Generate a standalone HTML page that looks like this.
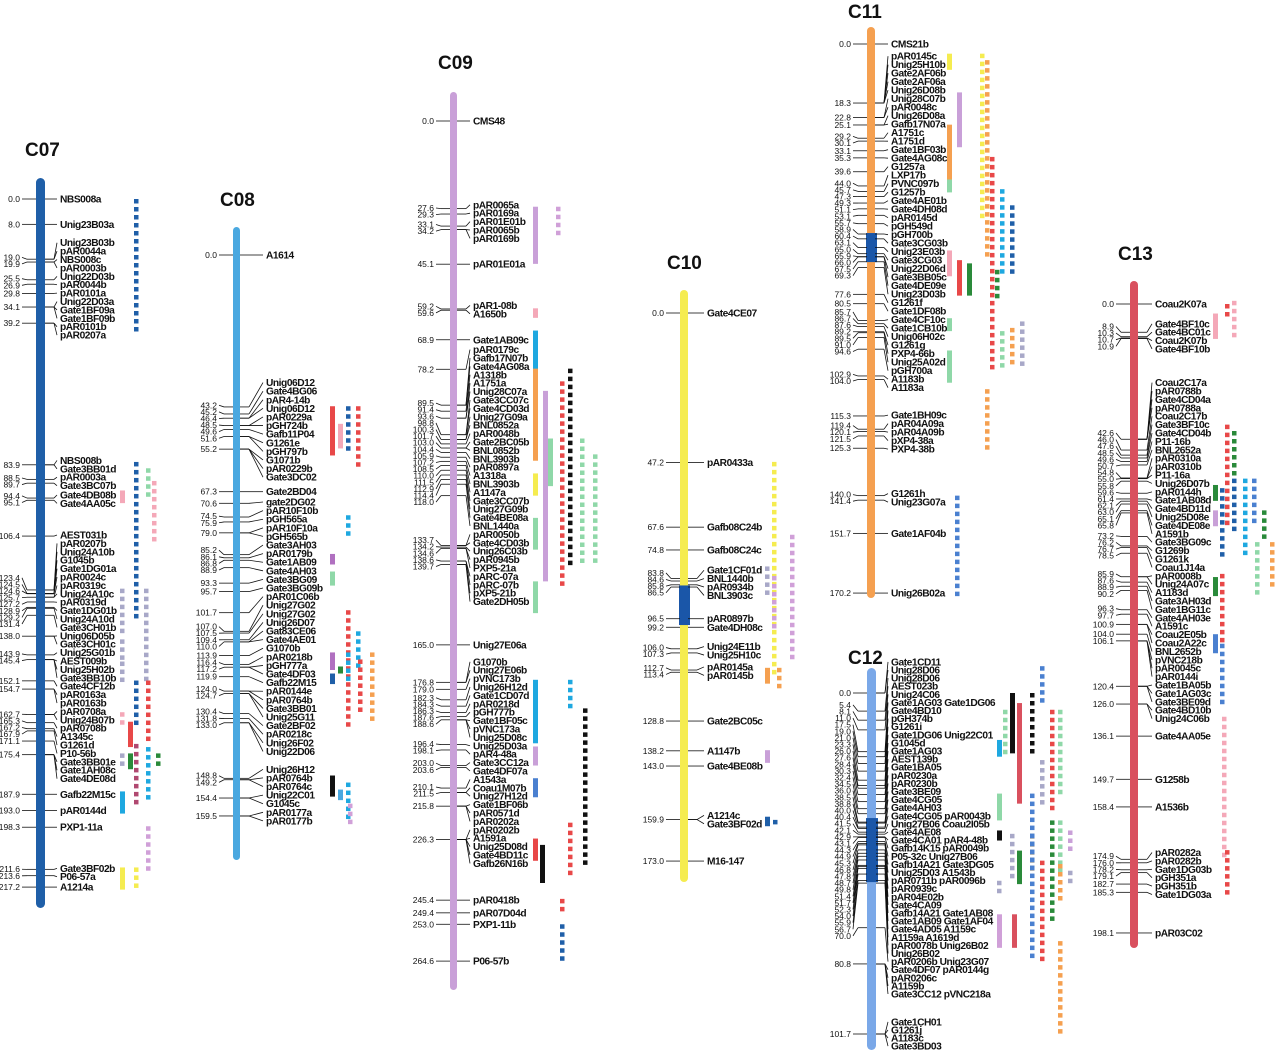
<!DOCTYPE html>
<html><head><meta charset="utf-8"><title>Linkage map C07-C13</title>
<style>
html,body{margin:0;padding:0;background:#fff;}
svg{display:block;font-family:"Liberation Sans",Arial,sans-serif;}
.lbl{font-size:10.2px;font-weight:bold;fill:#111;letter-spacing:-0.45px;}
.num{font-size:8.5px;fill:#111;}
.ttl{font-size:19px;font-weight:bold;fill:#111;}
</style></head>
<body>
<svg id="map" width="1280" height="1060" viewBox="0 0 1280 1060" xmlns="http://www.w3.org/2000/svg">
<rect width="1280" height="1060" fill="#fff"/>
</svg>
<script>
// ---------- data ----------
const chromNames = ["C07","C08","C09","C10","C11","C12","C13"];

const c07Markers = [[0,"NBS008a"],[8.0,"Unig23B03a"],[19.0,"Unig23B03b"],[19.0,"pAR0044a"],[19.9,"NBS008c"],[19.9,"pAR0003b"],[25.5,"Unig22D03b"],[26.9,"pAR0044b"],[29.8,"pAR0101a"],[34.1,"Unig22D03a"],[34.1,"Gate1BF09a"],[34.1,"Gate1BF09b"],[39.2,"pAR0101b"],[39.2,"pAR0207a"],
[83.9,"NBS008b"],[83.9,"Gate3BB01d"],[88.5,"pAR0003a"],[89.7,"Gate3BC07b"],[94.4,"Gate4DB08b"],[95.1,"Gate4AA05c"],[106.4,"AEST031b"],
[123.4,"pAR0207b"],[123.4,"Unig24A10b"],[124.5,"G1045b"],[124.6,"Gate1DG01a"],[124.6,"pAR0024c"],[125.7,"pAR0319c"],[125.7,"Unig24A10c"],[127.2,"pAR0319d"],[128.9,"Gate1DG01b"],[129.2,"Unig24A10d"],[131.4,"Gate3CH01b"],[138.0,"Unig06D05b"],[138.0,"Gate3CH01c"],[143.9,"Unig25G01b"],[145.4,"AEST009b"],[145.4,"Unig25H02b"],[145.4,"Gate3BB10b"],[152.1,"Gate4CF12b"],[154.7,"pAR0163a"],[154.7,"pAR0163b"],
[162.7,"pAR0708a"],[162.7,"Unig24B07b"],[165.3,"pAR0708b"],[167.2,"A1345c"],[167.9,"G1261d"],[171.1,"P10-56b"],[175.4,"Gate3BB01e"],[175.4,"Gate1AH08c"],[175.4,"Gate4DE08d"],
[187.9,"Gafb22M15c"],[193.0,"pAR0144d"],[198.3,"PXP1-11a"],[211.6,"Gate3BF02b"],[213.6,"P06-57a"],[217.2,"A1214a"]];

const c08Markers = [[0,"A1614"],[43.2,"Unig06D12"],[45.2,"Gate4BG06"],[46.4,"pAR4-14b"],[46.4,"Unig06D12"],[48.5,"pAR0229a"],[48.5,"pGH724b"],[49.6,"Gafb11P04"],[51.6,"G1261e"],[51.6,"pGH797b"],[55.2,"G1071b"],[55.2,"pAR0229b"],[55.2,"Gate3DC02"],
[67.3,"Gate2BD04"],[70.6,"gate2DG02"],[74.5,"pAR10F10b"],[75.9,"pGH565a"],[79.0,"pAR10F10a"],[79.0,"pGH565b"],[85.2,"Gate3AH03"],[86.1,"pAR0179b"],[86.8,"Gate1AB09"],[88.9,"Gate4AH03"],[93.3,"Gate3BG09"],[95.7,"Gate3BG09b"],
[101.7,"pAR01C06b"],[107.0,"Unig27G02"],[107.5,"Unig27G02"],[109.4,"Unig26D07"],[110.0,"Gat83CE06"],[110.0,"Gate4AE01"],[113.9,"G1070b"],[116.4,"pAR0218b"],[117.2,"pGH777a"],[117.2,"Gate4DF03"],[119.9,"Gafb22M15"],[124.0,"pAR0144e"],[124.0,"pAR0764b"],[124.7,"Gate3BB01"],[124.7,"Unig25G11"],[130.4,"Gate2BF02"],[131.8,"pAR0218c"],[133.0,"Unig26F02"],[133.0,"Unig22D06"],
[148.8,"Unig26H12"],[149.2,"pAR0764b"],[149.2,"pAR0764c"],[154.4,"Unig22C01"],[154.4,"G1045c"],[159.5,"pAR0177a"],[159.5,"pAR0177b"]];

const c09Markers = [[0,"CMS48"],[27.6,"pAR0065a"],[29.3,"pAR0169a"],[33.1,"pAR01E01b"],[34.2,"pAR0065b"],[34.2,"pAR0169b"],[45.1,"pAR01E01a"],[59.2,"pAR1-08b"],[59.6,"A1650b"],[68.9,"Gate1AB09c"],[78.2,"pAR0179c"],
[89.5,"Gafb17N07b"],[89.5,"Gate4AG08a"],[91.4,"A1318b"],[93.6,"A1751a"],[93.6,"Unig28C07a"],[98.8,"Gate3CC07c"],[98.8,"Gate4CD03d"],[100.3,"Unig27G09a"],[100.3,"BNL0852a"],[101.7,"pAR0048b"],[103.0,"Gate2BC05b"],[103.0,"BNL0852b"],[104.4,"BNL3903b"],[105.9,"pAR0897a"],[107.2,"A1318a"],[108.5,"BNL3903b"],[110.0,"A1147a"],[111.5,"Gate3CC07b"],[112.9,"Unig27G09b"],[114.4,"Gate4BE08a"],[118.0,"BNL1440a"],
[133.7,"pAR0050b"],[133.7,"Gate4CD03b"],[134.2,"Unig26C03b"],[134.6,"pAR0945b"],[134.6,"PXP5-21a"],[138.6,"pARC-07a"],[138.6,"pARC-07b"],[139.7,"pXP5-21b"],[139.7,"Gate2DH05b"],
[165.0,"Unig27E06a"],[176.8,"G1070b"],[176.8,"Unig27E06b"],[179.0,"pVNC173b"],[182.3,"Unig26H12d"],[184.3,"Gate1CD07d"],[186.3,"pAR0218d"],[187.6,"pGH777b"],[188.6,"Gate1BF05c"],[188.6,"pVNC173a"],[188.6,"Unig25D08c"],[196.4,"Unig25D03a"],[198.1,"pAR4-48a"],[203.0,"Gate3CC12a"],[203.6,"Gate4DF07a"],[210.1,"A1543a"],[211.5,"Coau1M07b"],[211.5,"Unig27H12d"],[215.8,"Gate1BF06b"],[215.8,"pAR0571d"],[215.8,"pAR0202a"],[226.3,"pAR0202b"],[226.3,"A1591a"],[226.3,"Unig25D08d"],[226.3,"Gate4BD11c"],[226.3,"Gafb26N16b"],
[245.4,"pAR0418b"],[249.4,"pAR07D04d"],[253.0,"PXP1-11b"],[264.6,"P06-57b"]];

const c10Markers = [[0,"Gate4CE07"],[47.2,"pAR0433a"],[67.6,"Gafb08C24b"],[74.8,"Gafb08C24c"],[83.8,"Gate1CF01d"],[84.6,"BNL1440b"],[85.8,"pAR0934b"],[86.5,"BNL3903c"],[96.5,"pAR0897b"],[99.2,"Gate4DH08c"],[106.0,"Unig24E11b"],[107.3,"Unig25H10c"],[112.7,"pAR0145a"],[113.4,"pAR0145b"],[128.8,"Gate2BC05c"],[138.2,"A1147b"],[143.0,"Gate4BE08b"],[159.9,"A1214c"],[159.9,"Gate3BF02d"],[173.0,"M16-147"]];

const c11Markers = [[0,"CMS21b"],[18.3,"pAR0145c"],[18.3,"Unig25H10b"],[18.3,"Gate2AF06b"],[18.3,"Gate2AF06a"],[18.3,"Unig26D08b"],[22.8,"Unig28C07b"],[22.8,"pAR0048c"],[25.1,"Unig26D08a"],[25.1,"Gafb17N07a"],[29.2,"A1751c"],[30.1,"A1751d"],[33.1,"Gate1BF03b"],[35.3,"Gate4AG08c"],[39.6,"G1257a"],[44.0,"LXP17b"],[45.7,"PVNC097b"],[47.3,"G1257b"],[49.3,"Gate4AE01b"],[51.1,"Gate4DH08d"],[53.1,"pAR0145d"],[55.7,"pGH549d"],[58.9,"pGH700b"],[60.4,"Gate3CG03b"],[63.1,"Unig23E03b"],[65.0,"Gate3CG03"],[65.9,"Unig22D06d"],[66.0,"Gate3BB05c"],[67.5,"Gate4DE09e"],[69.3,"Unig23D03b"],[77.6,"G1261f"],[80.5,"Gate1DF08b"],[85.7,"Gate4CF10c"],[86.7,"Gate1CB10b"],[87.6,"Unig06H02c"],[89.2,"G1261g"],[89.5,"PXP4-66b"],[91.0,"Unig25A02d"],[94.6,"pGH700a"],[102.9,"A1183b"],[104.0,"A1183a"],[115.3,"Gate1BH09c"],[119.4,"pAR04A09a"],[120.1,"pAR04A09b"],[121.5,"pXP4-38a"],[125.3,"PXP4-38b"],[140.0,"G1261h"],[141.4,"Unig23G07a"],[151.7,"Gate1AF04b"],[170.2,"Unig26B02a"]];

const c12Markers = [[0,"Gate1CD11"],[0,"Unig28D06"],[5.4,"Unig28D06"],[8.1,"AEST023b"],[11.0,"Unig24C06"],[17.5,"Gate1AG03 Gate1DG06"],[19.0,"Gate4BD10"],[21.0,"pGH374b"],[23.3,"G1261i"],[26.0,"Gate1DG06 Unig22C01"],[27.6,"G1045d"],[28.4,"Gate1AG03"],[30.3,"AEST139b"],[32.4,"Gate1BA05"],[34.5,"pAR0230a"],[36.0,"pAR0230b"],[38.5,"Gate3BE09"],[38.8,"Gate4CG05"],[40.0,"Gate4AH03"],[40.4,"Gate4CG05 pAR0043b"],[41.5,"Unig27B06 Coau2I05b"],[42.1,"Gate4AE08"],[42.9,"Gate4CA01 pAR4-48b"],[43.1,"Gafb14K15 pAR0049b"],[44.3,"P05-32c Unig27B06"],[44.9,"Gafb14A21 Gate3DG05"],[45.3,"Unig25D03 A1543b"],[46.8,"pAR0711b pAR0096b"],[47.8,"pAR0939c"],[48.7,"pAR04E02b"],[49.8,"Gate4CA09"],[51.4,"Gafb14A21 Gate1AB08"],[51.7,"Gate1AB09 Gate1AF04"],[52.3,"Gate4AD05 A1159c"],[54.0,"A1159a  A1619d"],[55.9,"pAR0078b Unig26B02"],[56.7,"Unig26B02"],[70.0,"pAR0206b Unig23G07"],[80.8,"Gate4DF07 pAR0144g"],[80.8,"pAR0206c"],[80.8,"A1159b"],[80.8,"Gate3CC12  pVNC218a"],[101.7,"Gate1CH01"],[101.7,"G1261j"],[101.7,"A1183c"],[101.7,"Gate3BD03"]];

const c13Markers = [[0,"Coau2K07a"],[8.9,"Gate4BF10c"],[10.3,"Gate4BC01c"],[10.7,"Coau2K07b"],[10.9,"Gate4BF10b"],
[42.6,"Coau2C17a"],[42.6,"pAR0788b"],[42.6,"Gate4CD04a"],[42.6,"pAR0788a"],[46.0,"Coau2C17b"],[47.6,"Gate3BF10c"],[48.5,"Gate4CD04b"],[49.6,"P11-16b"],[50.7,"BNL2652a"],[54.8,"pAR0310a"],[55.0,"pAR0310b"],[55.0,"P11-16a"],[55.8,"Unig26D07b"],[59.6,"pAR0144h"],[61.4,"Gate1AB08d"],[62.1,"Gate4BD11d"],[63.0,"Unig25D08e"],[65.1,"Gate4DE08e"],[65.8,"A1591b"],[73.2,"Gate3BG09c"],[76.2,"G1269b"],[76.7,"G1261k"],[78.5,"Coau1J14a"],[85.9,"pAR0008b"],[85.9,"Unig24A07c"],[87.6,"A1183d"],[88.9,"Gate3AH03d"],[90.2,"Gate1BG11c"],[96.3,"Gate4AH03e"],[97.7,"A1591c"],[100.9,"Coau2E05b"],[100.9,"Coau2A22c"],[104.0,"BNL2652b"],[106.1,"pVNC218b"],[106.1,"pAR0045c"],[106.1,"pAR0144i"],[120.4,"Gate1BA05b"],[120.4,"Gate1AG03c"],[120.4,"Gate3BE09d"],[126.0,"Gate4BD10b"],[126.0,"Unig24C06b"],
[136.1,"Gate4AA05e"],[149.7,"G1258b"],[158.4,"A1536b"],[174.9,"pAR0282a"],[176.0,"pAR0282b"],[178.2,"Gate1DG03b"],[179.1,"pGH351a"],[182.7,"pGH351b"],[185.3,"Gate1DG03a"],[198.1,"pAR03C02"]];

// QTL / segment columns: [x, cMstart, cMend, color, style]  (s = solid, d = dotted)
const c07Qtl = [[134,0,42,"#1f5fa8","d"],[134,83,133,"#1f5fa8","d"],[134,152,166,"#1f5fa8","d"],[146,85,95,"#8fd8a8","d"],[152,89,107,"#f4a8b8","d"],[120,92,96,"#f4a8b8","s"],[120,123,136,"#a8a8c8","d"],[144,123,152,"#a8a8c8","d"],[120,139,145,"#a8a8c8","d"],[120,146,153,"#a8a8c8","d"],[146,152,172,"#e84848","d"],[120,162,167,"#f4a8b8","d"],[128,165,173,"#e84848","s"],[134,172,192,"#b04870","d"],[128,175,180,"#2a8a3a","s"],[146,173,190,"#1ea8e0","d"],[156,175,180,"#2a8a3a","d"],[120,175,178,"#a8a8c8","d"],[120,187,194,"#1ea8e0","s"],[146,198,213,"#d0a0d8","d"],[120,211,218,"#f5ec50","s"],[134,211,218,"#f5ec50","d"]];
const c08Qtl = [[330,43,57,"#e84848","s"],[338,48,55,"#f4a8b8","s"],[346,43,56,"#1f5fa8","d"],[356,43,60,"#e84848","d"],[346,74,80,"#1ea8e0","d"],[330,85,88,"#b070c0","s"],[330,90,94,"#8fd8a8","s"],[346,101,135,"#e84848","d"],[356,107,117,"#1ea8e0","d"],[330,113,118,"#b070c0","s"],[330,119,122,"#1f5fa8","s"],[346,113,121,"#1ea8e0","d"],[358,115,130,"#e84848","d"],[370,113,133,"#f5a050","d"],[338,117,119,"#2a8a3a","s"],[330,148,154,"#111","s"],[338,152,155,"#4aa8e0","s"],[346,150,160,"#1ea8e0","d"],[348,156,162,"#d0a0d8","d"]];
const c09Qtl = [[533,27,45,"#c9a0d8","s"],[556,27,35,"#d0a0d8","d"],[533,59,62,"#f4a8b8","s"],[533,66,80,"#1ea8e0","s"],[533,78,107,"#f5a050","s"],[568,78,140,"#111","d"],[543,85,145,"#c9a0d8","s"],[548,100,115,"#8fd8a8","s"],[560,82,145,"#e84848","d"],[580,100,140,"#8fd8a8","d"],[593,105,140,"#8fd8a8","d"],[533,111,118,"#f5ec50","s"],[533,125,135,"#8fd8a8","s"],[533,145,155,"#8fd8a8","s"],[533,176,196,"#1ea8e0","s"],[568,176,186,"#1ea8e0","d"],[583,185,235,"#111","d"],[533,197,203,"#c9a0d8","s"],[533,207,213,"#4a80d0","s"],[533,226,233,"#e84848","s"],[540,228,240,"#111","s"],[568,221,238,"#e84848","d"],[560,245,249,"#e84848","d"],[560,253,265,"#1f5fa8","d"]];
const c10Qtl = [[772,47,115,"#f5ec50","d"],[765,80,88,"#a8a8c8","d"],[772,83,100,"#d0a0d8","d"],[790,70,110,"#d0a0d8","d"],[765,112,117,"#f5a050","s"],[777,112,118,"#f5a050","d"],[765,138,142,"#c9a0d8","s"],[765,159,162,"#1f5fa8","s"],[773,160,162,"#1f5fa8","d"]];
const c11Qtl = [[947,3,8,"#f5ec50","s"],[980,3,55,"#f5ec50","d"],[957,15,32,"#c9a0d8","s"],[947,25,42,"#f5a050","s"],[947,42,46,"#8fd8a8","s"],[985,5,65,"#f5a050","d"],[990,35,100,"#e84848","d"],[1000,45,70,"#1ea8e0","d"],[1010,50,70,"#1f5fa8","d"],[957,67,78,"#e84848","s"],[967,68,78,"#2a8a3a","s"],[995,70,78,"#2a8a3a","d"],[947,64,72,"#f4a8b8","s"],[947,85,89,"#8fd8a8","s"],[1020,86,100,"#a8a8c8","d"],[1010,88,100,"#f5a050","d"],[1000,89,100,"#8fd8a8","d"],[947,95,105,"#8fd8a8","s"],[985,107,125,"#f5a050","d"],[955,140,170,"#4a80d0","d"]];
const c12Qtl = [[1010,0,18,"#111","s"],[1040,-8,3,"#4a80d0","d"],[1030,0,18,"#111","d"],[1017,3,33,"#d9505e","s"],[1058,5,30,"#8fd8a8","d"],[1050,5,35,"#e84848","d"],[1040,20,34,"#a8a8c8","d"],[1003,5,18,"#8fd8a8","d"],[997,14,19,"#1ea8e0","s"],[997,30,38,"#8fd8a8","s"],[997,41,44,"#111","s"],[1010,42,55,"#a8a8c8","d"],[1017,47,57,"#2a8a3a","s"],[1030,42,52,"#111","d"],[1030,30,80,"#4a80d0","d"],[1040,50,79,"#e84848","d"],[1050,38,67,"#2a8a3a","d"],[1058,38,54,"#8fd8a8","d"],[1068,41,48,"#c9a0d8","d"],[1068,53,57,"#a8a8c8","d"],[1058,51,62,"#f5a050","d"],[997,56,60,"#a8a8c8","d"],[997,66,76,"#d0a0d8","s"],[1012,66,76,"#d9505e","s"],[1058,74,102,"#f5a050","d"]];
const c13Qtl = [[1213,3,11,"#f4a8b8","s"],[1225,0,3,"#e84848","d"],[1232,-1,11,"#f4a8b8","d"],[1225,38,70,"#e84848","d"],[1232,40,55,"#2a8a3a","d"],[1220,58,80,"#1f5fa8","d"],[1213,57,62,"#2a8a3a","s"],[1232,55,72,"#1f5fa8","d"],[1243,55,78,"#1ea8e0","d"],[1252,55,70,"#4a80d0","d"],[1213,65,70,"#c9a0d8","s"],[1262,65,75,"#2a8a3a","d"],[1270,75,88,"#f5a050","d"],[1255,75,92,"#8fd8a8","d"],[1213,86,92,"#2a8a3a","s"],[1220,85,106,"#e84848","d"],[1213,104,110,"#4a80d0","s"],[1220,107,125,"#4a80d0","d"],[1222,130,175,"#f4a8b8","d"],[1225,172,186,"#e84848","d"]];

// ---------- layout (styles/geometry only) ----------
const chroms = [
 {name:"C07",markers:c07Markers,qtl:c07Qtl,x:36,w:9,top:178,bot:908,y0:199,k:3.168,color:"#1f5fa8",lx:60,tx:25,ty:156,seg:null,gap:8.4},
 {name:"C08",markers:c08Markers,qtl:c08Qtl,x:233,w:7,top:227,bot:860,y0:255,k:3.517,color:"#4aa8e0",lx:266,tx:220,ty:206,seg:null,gap:8.6},
 {name:"C09",markers:c09Markers,qtl:c09Qtl,x:450,w:7,top:92,bot:990,y0:121,k:3.175,color:"#c9a0d8",lx:473,tx:438,ty:69,seg:null,gap:8.4},
 {name:"C10",markers:c10Markers,qtl:c10Qtl,x:680,w:8,top:290,bot:882,y0:313,k:3.168,color:"#f5ec50",lx:707,tx:667,ty:269,seg:[86,98.5],gap:8.4},
 {name:"C11",markers:c11Markers,qtl:c11Qtl,x:867,w:8,top:27,bot:598,y0:44,k:3.226,color:"#f5a050",lx:891,tx:848,ty:18,seg:[58.6,67.6],gap:8.5},
 {name:"C12",markers:c12Markers,qtl:c12Qtl,x:867,w:9,top:668,bot:1050,y0:693,k:3.353,color:"#7aa8e8",lx:891,tx:848,ty:664,seg:[37.3,56.4],gap:8.1},
 {name:"C13",markers:c13Markers,qtl:c13Qtl,x:1130,w:8,top:281,bot:948,y0:304,k:3.175,color:"#d9505e",lx:1155,tx:1118,ty:260,seg:null,gap:8.4}
];

const NS="http://www.w3.org/2000/svg";
const svg=document.getElementById("map");
function mk(tag,attrs,parent){const e=document.createElementNS(NS,tag);for(const a in attrs)e.setAttribute(a,attrs[a]);(parent||svg).appendChild(e);return e;}

function spread(ideal,gap){
  let groups=ideal.map((y,i)=>({s:i,e:i,sum:y,n:1}));
  let changed=true;
  const topOf=g=>g.sum/g.n-(g.n-1)*gap/2;
  while(changed){changed=false;
    for(let i=0;i<groups.length-1;i++){
      const a=groups[i],b=groups[i+1];
      if(topOf(b) < topOf(a)+a.n*gap){a.e=b.e;a.sum+=b.sum;a.n+=b.n;groups.splice(i+1,1);changed=true;break;}
    }}
  const out=[];
  groups.forEach(g=>{const t=topOf(g);for(let j=0;j<g.n;j++)out.push(t+j*gap);});
  return out;
}

chroms.forEach(c=>{
  const g=mk("g",{});
  
  
  const yOf=cm=>c.y0+cm*c.k;
  const t=mk("text",{x:c.tx,y:c.ty,class:"ttl"},g);t.textContent=c.name;
  
  
  const bar=mk("rect",{x:c.x,y:c.top,width:c.w,height:c.bot-c.top,rx:c.w/2,fill:c.color},g);
  
  
  if(c.seg){const s=mk("rect",{x:c.x-1,y:yOf(c.seg[0]),width:c.w+3,height:yOf(c.seg[1])-yOf(c.seg[0]),fill:"#1a56a8"},g);
    
    }
  const ideal=c.markers.map(m=>yOf(m[0]));
  const ly=spread(ideal,c.gap);
  const right=c.x+c.w;
  c.markers.forEach((m,i)=>{
    const y=ideal[i];
    mk("line",{x1:right,y1:y,x2:right+9,y2:y,stroke:"#111","stroke-width":0.8},g);
    mk("line",{x1:right+9,y1:y,x2:c.lx-3,y2:ly[i],stroke:"#111","stroke-width":0.8},g);
    const tx=mk("text",{x:c.lx,y:ly[i]+3.5,class:"lbl"},g);tx.textContent=m[1];
    
    
  });
  const uniq=[...new Set(c.markers.map(m=>m[0]))];
  const nIdeal=uniq.map(yOf);
  const ny=spread(nIdeal,6.6);
  uniq.forEach((v,i)=>{
    const y=nIdeal[i];
    mk("line",{x1:c.x-9,y1:y,x2:c.x,y2:y,stroke:"#111","stroke-width":0.8},g);
    mk("line",{x1:c.x-9,y1:y,x2:c.x-14,y2:ny[i],stroke:"#111","stroke-width":0.8},g);
    const tx=mk("text",{x:c.x-16,y:ny[i]+3,class:"num","text-anchor":"end"},g);tx.textContent=v.toFixed(1);
    
    
  });
  c.qtl.forEach(q=>{
    const y1=yOf(q[1]),y2=yOf(q[2]);
    if(q[4]==="s"){
      const r=mk("rect",{x:q[0],y:y1,width:5,height:Math.max(3,y2-y1),fill:q[3]},g);
      
      
    } else {
      for(let y=y1;y<=y2;y+=8){
        const r=mk("rect",{x:q[0],y:y,width:4.5,height:4.5,fill:q[3]},g);
        
        
      }
    }
  });
});
</script>
</body></html>
